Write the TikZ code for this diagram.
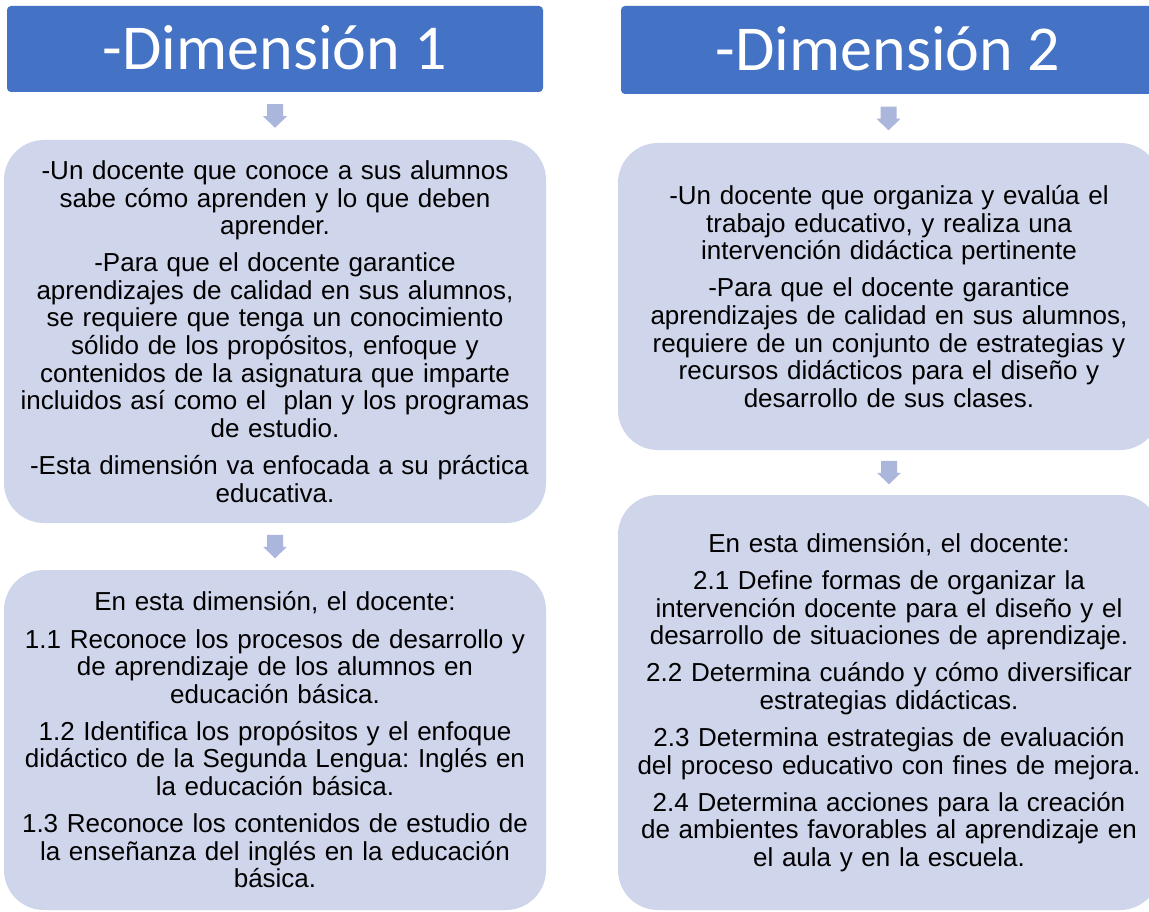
\documentclass[tikz,border=0pt]{standalone}
\usepackage{fontspec}
\setmainfont{Liberation Sans}
\newfontfamily\headfont{Carlito}
\usetikzlibrary{calc}
\definecolor{headblue}{HTML}{4472C4}
\definecolor{boxfill}{HTML}{CFD5EA}
\definecolor{arrowc}{HTML}{AAB6DC}
\frenchspacing
\begin{document}
\begin{tikzpicture}[x=1pt,y=-1pt,
  headbox/.style={fill=headblue, rounded corners=4pt, inner sep=0pt,
    text=white, font=\headfont\fontsize{64}{70}\selectfont,
    text height=41pt, text depth=0pt},
  bodybox/.style={fill=boxfill, rounded corners=40pt, inner sep=0pt,
    text=black, align=center, text width=540pt,
    font=\frenchspacing\fontsize{26}{27.6}\selectfont},
  downarr/.pic={\fill[arrowc] (-8,-11.75) -- (8,-11.75) -- (8,0.25) -- (12,0.25)
     -- (0,11.75) -- (-12,0.25) -- (-8,0.25) -- cycle;}
]
\useasboundingbox (0,0) rectangle (1149,912);
\fill[white] (0,0) rectangle (1149,912);
\clip (0,0) rectangle (1149,912);

% left column
\node[headbox, minimum width=536pt, minimum height=86pt] (h1) at (275,49)
  {-Dimensión 1};
\node[bodybox, minimum width=542pt, minimum height=383pt] (b1) at (275,331.5) {%
-Un docente que conoce a sus alumnos\\
sabe cómo aprenden y lo que deben\\
aprender.\\[9.5pt]
-Para que el docente garantice\\
aprendizajes de calidad en sus alumnos,\\
se requiere que tenga un conocimiento\\
sólido de los propósitos, enfoque y\\
contenidos de la asignatura que imparte\\
incluidos así como el\ \ plan y los programas\\
de estudio.\\[9.5pt]
\ -Esta dimensión va enfocada a su práctica\\
educativa.};
\node[bodybox, minimum width=542pt, minimum height=340pt] (b2) at (275,740) {%
En esta dimensión, el docente:\\[9.5pt]
1.1 Reconoce los procesos de desarrollo y\\
de aprendizaje de los alumnos en\\
educación básica.\\[9.5pt]
1.2 Identifica los propósitos y el enfoque\\
didáctico de la Segunda Lengua: Inglés en\\
la educación básica.\\[9.5pt]
1.3 Reconoce los contenidos de estudio de\\
la enseñanza del inglés en la educación\\
básica.};

% right column
\node[headbox, minimum width=534pt, minimum height=88pt] (h2) at (888,50)
  {-Dimensión 2};
\node[bodybox, minimum width=542pt, minimum height=307pt] (c1) at (889,296.5) {%
-Un docente que organiza y evalúa el\\
trabajo educativo, y realiza una\\
intervención didáctica pertinente\\[9.5pt]
-Para que el docente garantice\\
aprendizajes de calidad en sus alumnos,\\
requiere de un conjunto de estrategias y\\
recursos didácticos para el diseño y\\
desarrollo de sus clases.};
\node[bodybox, minimum width=542pt, minimum height=415pt] (c2) at (889,702.5) {%
En esta dimensión, el docente:\\[9.5pt]
2.1 Define formas de organizar la\\
intervención docente para el diseño y el\\
desarrollo de situaciones de aprendizaje.\\[9.5pt]
2.2 Determina cuándo y cómo diversificar\\
estrategias didácticas.\\[9.5pt]
2.3 Determina estrategias de evaluación\\
del proceso educativo con fines de mejora.\\[9.5pt]
2.4 Determina acciones para la creación\\
de ambientes favorables al aprendizaje en\\
el aula y en la escuela.};

% block arrows
\path ($(h1.south)!0.5!(b1.north)$) pic {downarr};
\path ($(b1.south)!0.5!(b2.north)$) pic {downarr};
\path ($(h2.south)!0.5!(c1.north)$) pic {downarr};
\path ($(c1.south)!0.5!(c2.north)$) pic {downarr};
\end{tikzpicture}
\end{document}
